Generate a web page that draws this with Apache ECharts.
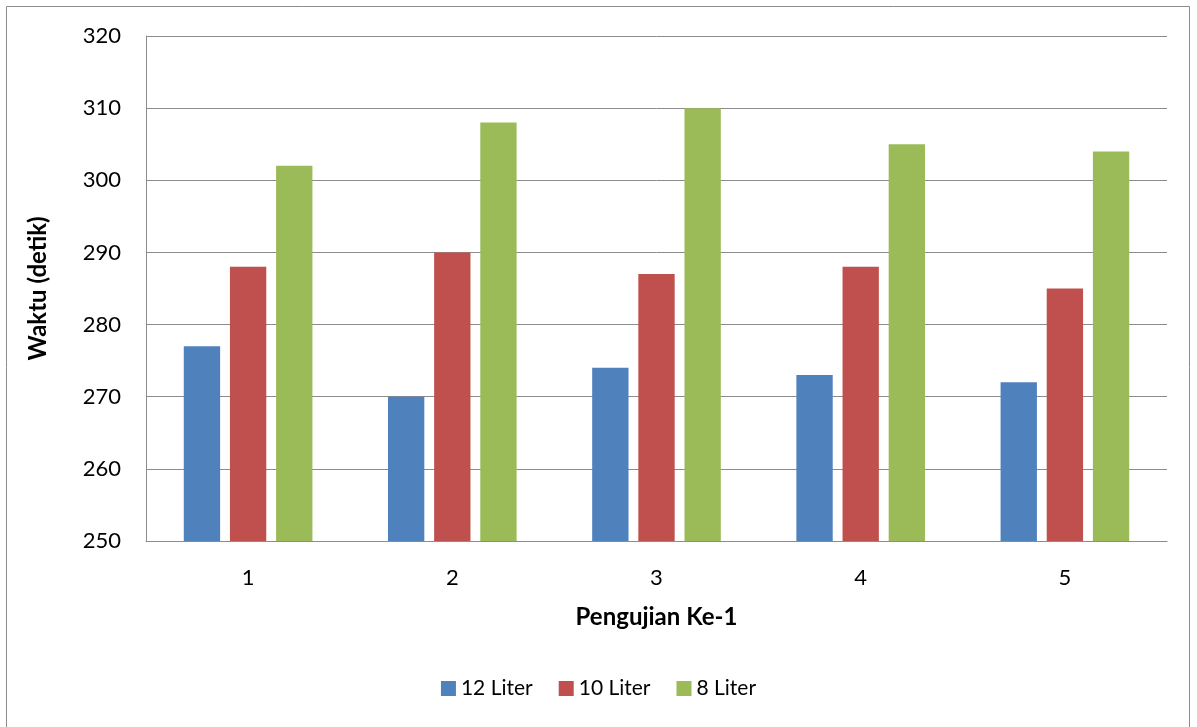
<!DOCTYPE html>
<html><head><meta charset="utf-8">
<script src="https://cdn.jsdelivr.net/npm/echarts@6/dist/echarts.min.js"></script>
<style>html,body{margin:0;padding:0;background:#fff}#c{width:1197px;height:727px}</style>
</head><body><div id="c"></div>
<script>
const categories = ['1','2','3','4','5'];
const seriesNames = ['12 Liter','10 Liter','8 Liter'];
const liter12 = [277,270,274,273,272];
const liter10 = [288,290,287,288,285];
const liter8 = [302,308,310,305,304];
const yTicks = {min:250, max:320, interval:10};
const colors = ['#4F81BD','#C0504D','#9BBB59'];
const font = 'Lato, "Open Sans", sans-serif';
const chart = echarts.init(document.getElementById('c'));
chart.setOption({
  animation:false,
  graphic:[{type:'rect',shape:{x:6.5,y:6.5,width:1183,height:730},style:{fill:'none',stroke:'#8c8c8c',lineWidth:1}}],
  grid:{left:146,right:30,top:36,bottom:186},
  legend:{bottom:23,left:'center',itemWidth:15,itemHeight:15,itemGap:26,icon:'rect',
    textStyle:{fontFamily:font,fontSize:21,color:'#000'},data:seriesNames},
  xAxis:{type:'category',data:categories,name:'Pengujian Ke-1',nameLocation:'middle',nameGap:64,
    nameTextStyle:{fontFamily:font,fontSize:24,fontWeight:'bold',color:'#000'},
    axisLine:{lineStyle:{color:'#8c8c8c'}},axisTick:{show:false},
    axisLabel:{fontFamily:font,fontSize:22,color:'#000',margin:26}},
  yAxis:{type:'value',min:yTicks.min,max:yTicks.max,interval:yTicks.interval,
    name:'Waktu (detik)',nameLocation:'middle',nameGap:96,
    nameTextStyle:{fontFamily:font,fontSize:24,fontWeight:'bold',color:'#000'},
    axisLine:{show:true,lineStyle:{color:'#8c8c8c'}},axisTick:{show:false},
    axisLabel:{fontFamily:font,fontSize:22,color:'#000',margin:25},
    splitLine:{lineStyle:{color:'#8c8c8c'}}},
  series:[
    {name:seriesNames[0],type:'bar',data:liter12,itemStyle:{color:colors[0]},barGap:'27%',barCategoryGap:'37%'},
    {name:seriesNames[1],type:'bar',data:liter10,itemStyle:{color:colors[1]}},
    {name:seriesNames[2],type:'bar',data:liter8,itemStyle:{color:colors[2]}}
  ]
});
</script></body></html>
